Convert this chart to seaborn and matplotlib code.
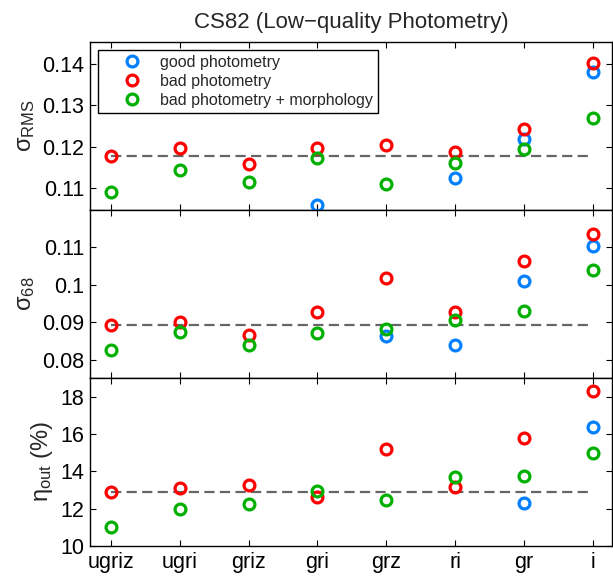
import numpy as np
import pandas as pd
import matplotlib
matplotlib.use("Agg")
import matplotlib.pyplot as plt
from matplotlib.lines import Line2D
from matplotlib.ticker import FixedLocator, FuncFormatter
import seaborn as sns

# Filter combinations along the x axis
bands = ["ugriz", "ugri", "griz", "gri", "grz", "ri", "gr", "i"]
nan = np.nan

# Good-photometry ugriz level of each metric (dashed baseline)
baseline = [0.1178, 0.0892, 12.89]

# sigma_RMS (good-photometry points that coincide with the bad ones are left out)
rms_good = [nan, nan, nan, 0.1059, nan, 0.1124, 0.1217, 0.1379]
rms_bad = [0.1178, 0.1197, 0.1159, 0.1197, 0.1204, 0.1186, 0.1242, 0.1402]
rms_morph = [0.1091, 0.1143, 0.1114, 0.1173, 0.1110, 0.1160, 0.1193, 0.1269]

# sigma_68
s68_good = [nan, nan, nan, nan, 0.0863, 0.0841, 0.1011, 0.1105]
s68_bad = [0.0892, 0.0900, 0.0867, 0.0927, 0.1019, 0.0928, 0.1064, 0.1137]
s68_morph = [0.0827, 0.0875, 0.0840, 0.0872, 0.0882, 0.0906, 0.0931, 0.1040]

# outlier fraction (%)
out_good = [nan, nan, nan, nan, nan, nan, 12.28, 16.39]
out_bad = [12.89, 13.09, 13.26, 12.65, 15.17, 13.16, 15.79, 18.32]
out_morph = [11.02, 11.97, 12.26, 12.92, 12.44, 13.68, 13.73, 14.99]

series_names = ["good photometry", "bad photometry", "bad photometry + morphology"]
colors = ["#0080ff", "#ff0000", "#00b000"]

sns.set_theme(style="ticks")
plt.rcParams["font.family"] = ["Liberation Sans", "DejaVu Sans"]
plt.rcParams["mathtext.fontset"] = "custom"
plt.rcParams["mathtext.rm"] = "Liberation Sans"
plt.rcParams["mathtext.it"] = "Liberation Sans:italic"
plt.rcParams["axes.edgecolor"] = "black"
plt.rcParams["axes.linewidth"] = 1.0
plt.rcParams["xtick.color"] = "black"
plt.rcParams["ytick.color"] = "black"

MS, MEW = 7.8, 2.3

fig, axes = plt.subplots(3, 1, figsize=(6.13, 5.77), dpi=100, sharex=True)
fig.subplots_adjust(left=90 / 613, right=612 / 613, top=1 - 42 / 577,
                    bottom=1 - 546 / 577, hspace=0)

panels = [
    (rms_good, rms_bad, rms_morph, "σ$_{\\mathrm{RMS}}$", (0.1047, 0.1452),
     [0.11, 0.12, 0.13, 0.14]),
    (s68_good, s68_bad, s68_morph, "σ$_{\\mathrm{68}}$", (0.0752, 0.1200),
     [0.08, 0.09, 0.10, 0.11]),
    (out_good, out_bad, out_morph, "η$_{\\mathrm{out}}$ (%)", (10, 19),
     [10, 12, 14, 16, 18]),
]

xpos = np.arange(len(bands))
for ax, ref, (good, bad, morph, label, ylim, yticks) in zip(axes, baseline, panels):
    frame = pd.DataFrame({"pos": np.tile(xpos, 3),
                          "value": np.concatenate([good, bad, morph]),
                          "series": np.repeat(series_names, len(bands))})
    frame = frame.dropna()
    ax.plot([0, len(bands) - 1], [ref, ref], color="#666666", lw=1.6,
            ls=(0, (4.6, 2.4)), zorder=1)
    for name, c in zip(series_names, colors):
        sub = frame[frame["series"] == name]
        sns.lineplot(data=sub, x="pos", y="value", ax=ax, color=c,
                     marker="o", ls="", ms=MS, mfc="none", mec=c, mew=MEW,
                     zorder=3, legend=False, clip_on=True)
    ax.set_ylim(*ylim)
    ax.set_xlim(-0.305, len(bands) - 1 + 0.28)
    ax.yaxis.set_major_locator(FixedLocator(yticks))
    ax.yaxis.set_major_formatter(FuncFormatter(lambda v, p: f"{v:g}"))
    ax.set_ylabel(label, fontsize=17)
    ax.set_xlabel("")
    ax.tick_params(axis="both", direction="in", length=4, width=0.8,
                   labelsize=15.5, top=True, right=True, pad=4)
    for s in ax.spines.values():
        s.set_visible(True)
        s.set_color("black")

axes[-1].set_xticks(xpos)
axes[-1].set_xticklabels(bands)

axes[0].set_title("CS82 (Low\u2212quality Photometry)", fontsize=16, pad=10)

handles = [Line2D([], [], ls="", marker="o", ms=MS, mfc="none", mec=c, mew=MEW)
           for c in colors]
leg = axes[0].legend(handles, series_names, loc="upper left", fontsize=11.5,
                     frameon=True, fancybox=False, edgecolor="black",
                     framealpha=1, borderaxespad=0.5, handletextpad=0.0,
                     labelspacing=0.25, borderpad=0.3, handlelength=3.6)
leg.get_frame().set_linewidth(1.0)

fig.savefig("out.png", dpi=100)
